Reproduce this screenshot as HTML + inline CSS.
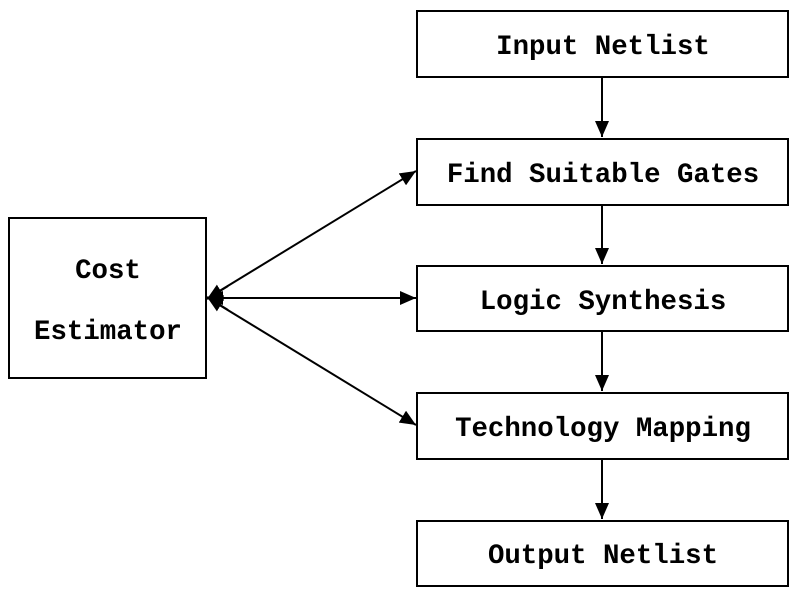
<!DOCTYPE html>
<html><head><style>
html,body{margin:0;padding:0;background:#fff;}
text{font-family:"Liberation Mono",monospace;font-weight:bold;font-size:27.4px;fill:#000;}
</style></head><body>
<svg width="797" height="595" viewBox="0 0 797 595" xmlns="http://www.w3.org/2000/svg">
<defs>
<marker id="a" markerWidth="16" markerHeight="14" refX="16" refY="7" orient="auto" markerUnits="userSpaceOnUse">
<path d="M0,0 L16,7 L0,14 Z" fill="#000"/></marker>
</defs>
<g fill="#fff" stroke="#000" stroke-width="2">
<rect x="417" y="11" width="371" height="66"/>
<rect x="417" y="139" width="371" height="66"/>
<rect x="417" y="266" width="371" height="65"/>
<rect x="417" y="393" width="371" height="66"/>
<rect x="417" y="521" width="371" height="65"/>
<rect x="9" y="218" width="197" height="160"/>
</g>
<g stroke="#000" stroke-width="2" marker-end="url(#a)">
<line x1="602" y1="77" x2="602" y2="137"/>
<line x1="602" y1="205" x2="602" y2="264"/>
<line x1="602" y1="331" x2="602" y2="391"/>
<line x1="602" y1="459" x2="602" y2="519"/>
<line x1="208" y1="298" x2="416" y2="171"/>
<line x1="208" y1="298" x2="416" y2="298"/>
<line x1="208" y1="298" x2="416" y2="425"/>
<line x1="230" y1="298" x2="207" y2="298"/>
<line x1="228" y1="286" x2="207" y2="299"/>
<line x1="228" y1="310" x2="207" y2="297"/>
</g>
<g text-anchor="middle">
<text x="603" y="54">Input Netlist</text>
<text x="603" y="182">Find Suitable Gates</text>
<text x="603" y="309">Logic Synthesis</text>
<text x="603" y="436">Technology Mapping</text>
<text x="603" y="563">Output Netlist</text>
<text x="108" y="278">Cost</text>
<text x="108" y="339">Estimator</text>
</g>
</svg>
</body></html>
